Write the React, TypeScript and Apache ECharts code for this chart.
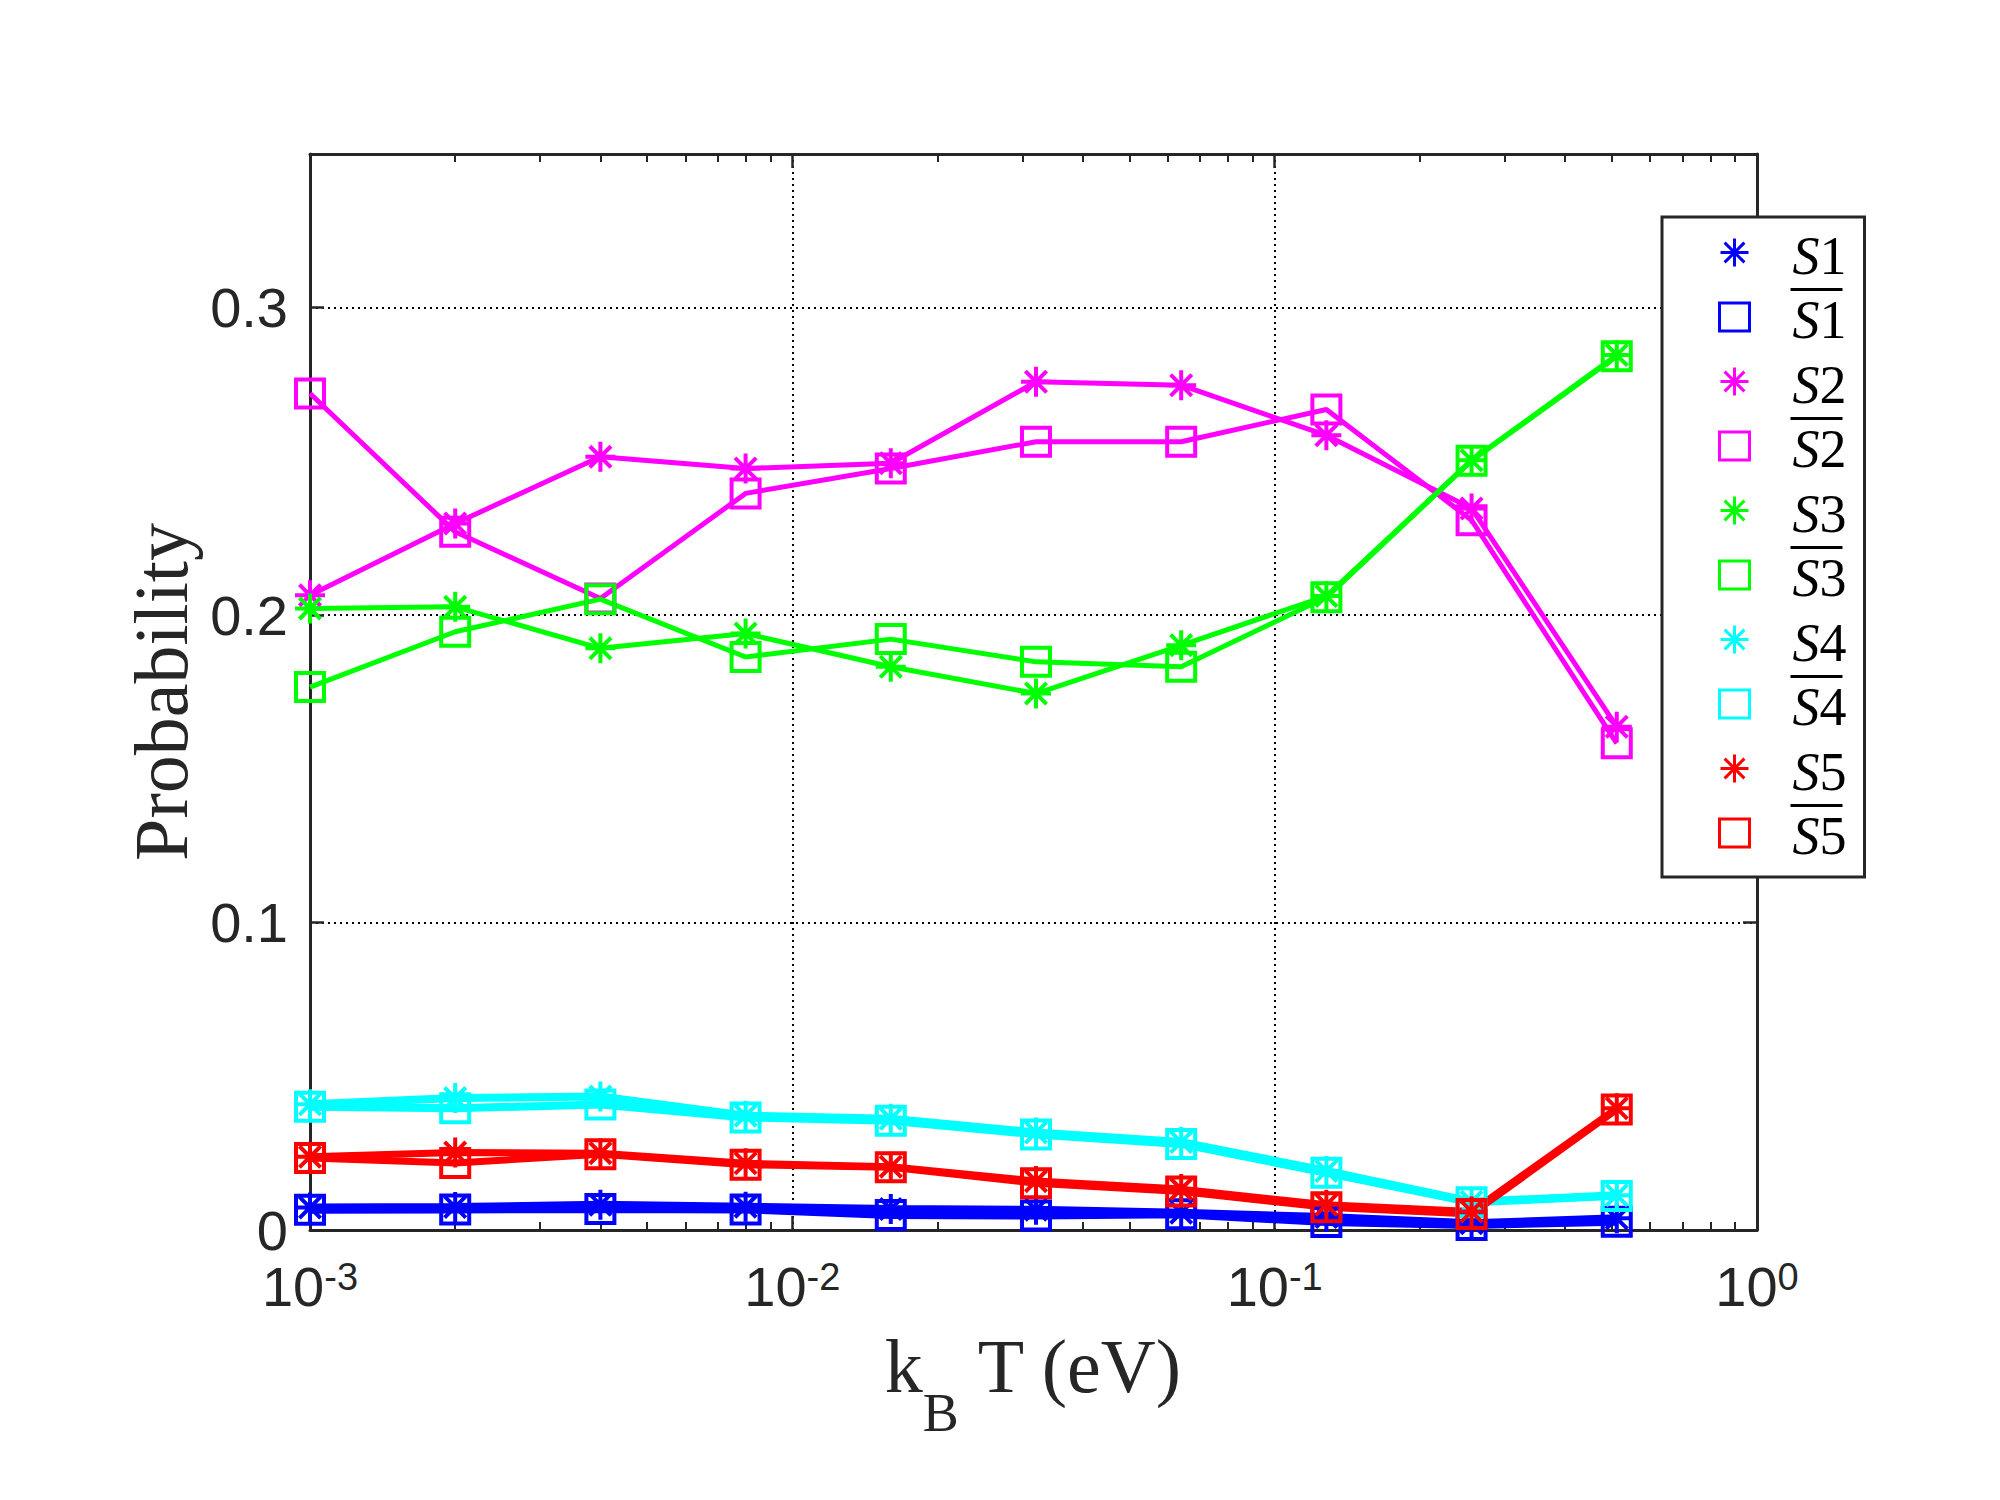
import React, { useEffect, useRef } from "react";
import * as echarts from "echarts";

// ---- data ----
const kT = [0.001, 0.002, 0.004, 0.008, 0.016, 0.032, 0.064, 0.128, 0.256, 0.512];

const S1 = [0.0073, 0.0075, 0.0082, 0.0076, 0.0068, 0.0066, 0.0056, 0.0042, 0.0022, 0.0038];
const S1bar = [0.0066, 0.0067, 0.0068, 0.0067, 0.0049, 0.0047, 0.0051, 0.0026, 0.0016, 0.0027];
const S2 = [0.2065, 0.2298, 0.2515, 0.2477, 0.2494, 0.2759, 0.2748, 0.2585, 0.2347, 0.1637];
const S2bar = [0.2721, 0.2271, 0.2054, 0.2396, 0.2477, 0.2564, 0.2564, 0.2669, 0.2309, 0.1583];
const S3 = [0.2022, 0.2027, 0.1892, 0.194, 0.1832, 0.1745, 0.1902, 0.2062, 0.2504, 0.2846];
const S3bar = [0.1766, 0.1946, 0.2052, 0.1864, 0.1922, 0.1848, 0.1832, 0.2058, 0.2502, 0.2842];
const S4 = [0.0409, 0.0429, 0.0434, 0.0372, 0.0362, 0.0317, 0.0286, 0.0192, 0.0092, 0.0113];
const S4bar = [0.0401, 0.0396, 0.0408, 0.0366, 0.0355, 0.0311, 0.028, 0.0186, 0.009, 0.0111];
const S5 = [0.0238, 0.0252, 0.025, 0.0217, 0.0206, 0.0159, 0.0133, 0.0082, 0.006, 0.0396];
const S5bar = [0.0234, 0.0218, 0.0246, 0.0212, 0.0204, 0.0152, 0.0125, 0.0074, 0.0052, 0.0392];

const MINOR_TICKS = [
  0.002, 0.003, 0.004, 0.005, 0.006, 0.007, 0.008, 0.009,
  0.02, 0.03, 0.04, 0.05, 0.06, 0.07, 0.08, 0.09,
  0.2, 0.3, 0.4, 0.5, 0.6, 0.7, 0.8, 0.9,
];

const SERIES = [
  { name: "S1", label: "S1", bar: false, data: S1, color: "#0000FF", marker: "star", width: 8 },
  { name: "S1\u0304", label: "S1", bar: true, data: S1bar, color: "#0000FF", marker: "square", width: 8 },
  { name: "S2", label: "S2", bar: false, data: S2, color: "#FF00FF", marker: "star", width: 5 },
  { name: "S2\u0304", label: "S2", bar: true, data: S2bar, color: "#FF00FF", marker: "square", width: 5 },
  { name: "S3", label: "S3", bar: false, data: S3, color: "#00FF00", marker: "star", width: 5 },
  { name: "S3\u0304", label: "S3", bar: true, data: S3bar, color: "#00FF00", marker: "square", width: 5 },
  { name: "S4", label: "S4", bar: false, data: S4, color: "#00FFFF", marker: "star", width: 8 },
  { name: "S4\u0304", label: "S4", bar: true, data: S4bar, color: "#00FFFF", marker: "square", width: 8 },
  { name: "S5", label: "S5", bar: false, data: S5, color: "#FF0000", marker: "star", width: 7 },
  { name: "S5\u0304", label: "S5", bar: true, data: S5bar, color: "#FF0000", marker: "square", width: 7 },
];

const STAR = "path://M0 -10L0 10M-10 0L10 0M-7.07 -7.07L7.07 7.07M-7.07 7.07L7.07 -7.07";
const AX = "#262626";

export default function App() {
  const ref = useRef<HTMLDivElement>(null);
  useEffect(() => {
    if (!ref.current) return;
    const chart = echarts.init(ref.current, undefined, { renderer: "svg" });
    const grid = { left: 310, top: 154, width: 1447, height: 1076 };
    const dotted = { show: true, lineStyle: { color: "#000", width: 2, type: [2, 4] } };
    const majorTick = { show: true, inside: true, length: 14, lineStyle: { color: AX, width: 2.5 } };
    const minorTick = {
      show: true, inside: true, length: 8, customValues: MINOR_TICKS,
      lineStyle: { color: AX, width: 2 },
    };
    const axisLine = { show: true, onZero: false, lineStyle: { color: AX, width: 3 } };
    const logBase = { type: "log", logBase: 10, min: 0.001, max: 1 };
    const labelByName: Record<string, { label: string; bar: boolean }> = {};
    SERIES.forEach((s) => (labelByName[s.name] = { label: s.label, bar: s.bar }));

    const option: any = {
      animation: false,
      backgroundColor: "#fff",
      grid,
      xAxis: [
        {
          ...logBase,
          position: "bottom",
          axisLine,
          axisTick: majorTick,
          splitLine: dotted,
          axisLabel: {
            margin: 28,
            formatter: (v: number) => `{b|10}{s|${Math.round(Math.log10(v))}}`,
            rich: {
              b: { fontFamily: "Liberation Sans", fontSize: 56, lineHeight: 70, color: AX, verticalAlign: "top" },
              s: { fontFamily: "Liberation Sans", fontSize: 38, lineHeight: 38, color: AX, verticalAlign: "top" },
            },
          },
          name: "{a|k}{sub|B}{a| T (eV)}",
          nameLocation: "middle",
          nameGap: 98,
          nameTextStyle: {
            rich: {
              a: { fontFamily: "Liberation Serif", fontSize: 76, lineHeight: 84, color: AX, verticalAlign: "top" },
              sub: {
                fontFamily: "Liberation Serif", fontSize: 54, lineHeight: 54, color: AX,
                verticalAlign: "top", padding: [58, 0, 0, 0],
              },
            },
          },
        },
        { ...logBase, position: "top", axisLine, axisTick: majorTick, axisLabel: { show: false }, splitLine: { show: false } },
        { ...logBase, position: "bottom", axisLine: { show: false, onZero: false }, axisTick: minorTick, axisLabel: { show: false }, splitLine: { show: false } },
        { ...logBase, position: "top", axisLine: { show: false, onZero: false }, axisTick: minorTick, axisLabel: { show: false }, splitLine: { show: false } },
      ],
      yAxis: [
        {
          type: "value", min: 0, max: 0.35, interval: 0.1, position: "left",
          axisLine, axisTick: majorTick, splitLine: dotted,
          axisLabel: {
            margin: 22, showMaxLabel: false, color: AX, fontFamily: "Liberation Sans", fontSize: 56,
            lineHeight: 46,
            formatter: (v: number) => (v === 0 ? "0" : v.toFixed(1)),
          },
          name: "Probability",
          nameLocation: "middle",
          nameGap: 106,
          nameTextStyle: { fontFamily: "Liberation Serif", fontSize: 76, color: AX },
        },
        {
          type: "value", min: 0, max: 0.35, interval: 0.1, position: "right",
          axisLine, axisTick: majorTick, splitLine: { show: false }, axisLabel: { show: false },
        },
      ],
      legend: {
        orient: "vertical",
        left: 1662,
        top: 217,
        padding: [2, 18, 14, 56],
        itemGap: 1,
        itemWidth: 30,
        itemHeight: 28,
        selectedMode: false,
        backgroundColor: "#fff",
        borderColor: AX,
        borderWidth: 3,
        borderRadius: 0,
        data: SERIES.map((s) => ({
          name: s.name,
          icon: s.marker === "star" ? STAR : "rect",
          itemStyle: { color: "rgba(0,0,0,0)", borderColor: s.color, borderWidth: 3 },
        })),
        formatter: (name: string) => {
          const info = labelByName[name];
          const d = info.label.slice(1);
          const barTag = info.bar ? "bar" : "nobar";
          return `{sp2|}{${barTag}| }\n{sp|}{i|S}{n|${d}}`;
        },
        textStyle: {
          rich: {
            sp2: { width: 36, lineHeight: 6 },
            bar: { width: 52, height: 3, lineHeight: 6, backgroundColor: "#000", fontSize: 4 },
            nobar: { width: 52, height: 3, lineHeight: 6, backgroundColor: "rgba(0,0,0,0)", fontSize: 4 },
            sp: { width: 38, lineHeight: 55 },
            i: { fontFamily: "Liberation Serif", fontStyle: "italic", fontSize: 54, lineHeight: 55, color: "#000" },
            n: { fontFamily: "Liberation Serif", fontSize: 54, lineHeight: 55, color: "#000" },
          },
        },
      },
      series: SERIES.map((s) => ({
        name: s.name,
        type: "line",
        xAxisIndex: 0,
        yAxisIndex: 0,
        data: kT.map((x, i) => [x, s.data[i]]),
        symbol: s.marker === "star" ? STAR : "rect",
        symbolSize: s.marker === "star" ? 30 : 28,
        showSymbol: true,
        showAllSymbol: true,
        lineStyle: { color: s.color, width: s.width },
        itemStyle: { color: "rgba(0,0,0,0)", borderColor: s.color, borderWidth: 4 },
        emphasis: { disabled: true },
      })),
    };
    chart.setOption(option);
    return () => chart.dispose();
  }, []);
  return <div ref={ref} style={{ position: "absolute", left: 0, top: 0, width: 2000, height: 1500 }} />;
}
